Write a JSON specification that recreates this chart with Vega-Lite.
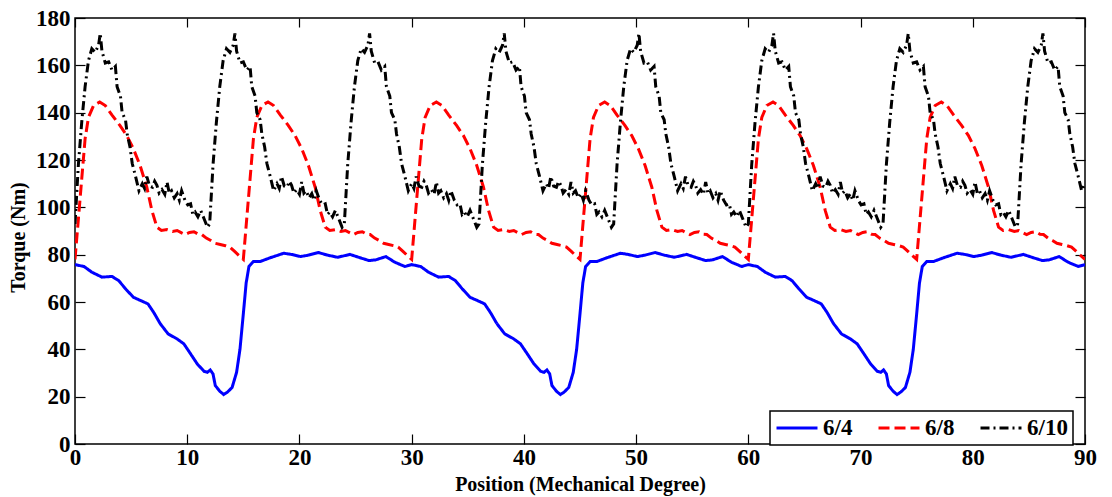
{
  "$schema": "https://vega.github.io/schema/vega-lite/v6.json",
  "width": 1010,
  "height": 426,
  "autosize": {"type": "none"},
  "padding": {"left": 75, "top": 18, "right": 27, "bottom": 53},
  "background": "white",
  "config": {
    "view": {"stroke": "black", "strokeWidth": 1.5},
    "axis": {
      "labelFont": "Liberation Serif", "labelFontWeight": "bold", "labelFontSize": 23, "labelColor": "black", "labelFlush": false,
      "titleFont": "Liberation Serif", "titleFontWeight": "bold", "titleFontSize": 20, "titleColor": "black",
      "grid": false, "domain": false, "tickColor": "black", "tickWidth": 1.2
    },
    "legend": {"strokeWidth": 1.5}
  },
  "data": {"values": [
    {"s":"6/4","x":0,"y":75.8},{"s":"6/4","x":0.8,"y":75},{"s":"6/4","x":1.5,"y":72.6},{"s":"6/4","x":2.4,"y":70.5},{"s":"6/4","x":3.3,"y":70.8},{"s":"6/4","x":3.9,"y":69},{"s":"6/4","x":4.5,"y":65.6},{"s":"6/4","x":5.2,"y":62},{"s":"6/4","x":6,"y":60.3},{"s":"6/4","x":6.5,"y":59.2},{"s":"6/4","x":7,"y":55.7},{"s":"6/4","x":7.6,"y":50.8},{"s":"6/4","x":8.3,"y":46.5},{"s":"6/4","x":9.1,"y":44.4},{"s":"6/4","x":9.7,"y":42.3},{"s":"6/4","x":10.3,"y":38.1},{"s":"6/4","x":10.9,"y":33.8},{"s":"6/4","x":11.5,"y":30.7},{"s":"6/4","x":11.8,"y":30.3},{"s":"6/4","x":12.05,"y":31.3},{"s":"6/4","x":12.3,"y":29.6},{"s":"6/4","x":12.5,"y":24.7},{"s":"6/4","x":12.9,"y":22.3},{"s":"6/4","x":13.25,"y":20.9},{"s":"6/4","x":13.6,"y":22},{"s":"6/4","x":14,"y":23.9},{"s":"6/4","x":14.4,"y":30.3},{"s":"6/4","x":14.7,"y":40},{"s":"6/4","x":15,"y":55},{"s":"6/4","x":15.25,"y":68},{"s":"6/4","x":15.5,"y":75},{"s":"6/4","x":15.9,"y":77.1},{"s":"6/4","x":16.5,"y":77.1},{"s":"6/4","x":17.4,"y":78.7},{"s":"6/4","x":18.6,"y":80.6},{"s":"6/4","x":19.3,"y":80.1},{"s":"6/4","x":20.1,"y":79.2},{"s":"6/4","x":20.8,"y":79.8},{"s":"6/4","x":21.7,"y":80.9},{"s":"6/4","x":22.5,"y":79.8},{"s":"6/4","x":23.4,"y":78.9},{"s":"6/4","x":24.5,"y":80.1},{"s":"6/4","x":25.4,"y":78.7},{"s":"6/4","x":26.2,"y":77.5},{"s":"6/4","x":26.8,"y":77.8},{"s":"6/4","x":27.7,"y":79.2},{"s":"6/4","x":28.5,"y":76.8},{"s":"6/4","x":29.4,"y":75},
    {"s":"6/4","x":30,"y":75.8},{"s":"6/4","x":30.8,"y":75},{"s":"6/4","x":31.5,"y":72.6},{"s":"6/4","x":32.4,"y":70.5},{"s":"6/4","x":33.3,"y":70.8},{"s":"6/4","x":33.9,"y":69},{"s":"6/4","x":34.5,"y":65.6},{"s":"6/4","x":35.2,"y":62},{"s":"6/4","x":36,"y":60.3},{"s":"6/4","x":36.5,"y":59.2},{"s":"6/4","x":37,"y":55.7},{"s":"6/4","x":37.6,"y":50.8},{"s":"6/4","x":38.3,"y":46.5},{"s":"6/4","x":39.1,"y":44.4},{"s":"6/4","x":39.7,"y":42.3},{"s":"6/4","x":40.3,"y":38.1},{"s":"6/4","x":40.9,"y":33.8},{"s":"6/4","x":41.5,"y":30.7},{"s":"6/4","x":41.8,"y":30.3},{"s":"6/4","x":42.05,"y":31.3},{"s":"6/4","x":42.3,"y":29.6},{"s":"6/4","x":42.5,"y":24.7},{"s":"6/4","x":42.9,"y":22.3},{"s":"6/4","x":43.25,"y":20.9},{"s":"6/4","x":43.6,"y":22},{"s":"6/4","x":44,"y":23.9},{"s":"6/4","x":44.4,"y":30.3},{"s":"6/4","x":44.7,"y":40},{"s":"6/4","x":45,"y":55},{"s":"6/4","x":45.25,"y":68},{"s":"6/4","x":45.5,"y":75},{"s":"6/4","x":45.9,"y":77.1},{"s":"6/4","x":46.5,"y":77.1},{"s":"6/4","x":47.4,"y":78.7},{"s":"6/4","x":48.6,"y":80.6},{"s":"6/4","x":49.3,"y":80.1},{"s":"6/4","x":50.1,"y":79.2},{"s":"6/4","x":50.8,"y":79.8},{"s":"6/4","x":51.7,"y":80.9},{"s":"6/4","x":52.5,"y":79.8},{"s":"6/4","x":53.4,"y":78.9},{"s":"6/4","x":54.5,"y":80.1},{"s":"6/4","x":55.4,"y":78.7},{"s":"6/4","x":56.2,"y":77.5},{"s":"6/4","x":56.8,"y":77.8},{"s":"6/4","x":57.7,"y":79.2},{"s":"6/4","x":58.5,"y":76.8},{"s":"6/4","x":59.4,"y":75},
    {"s":"6/4","x":60,"y":75.8},{"s":"6/4","x":60.8,"y":75},{"s":"6/4","x":61.5,"y":72.6},{"s":"6/4","x":62.4,"y":70.5},{"s":"6/4","x":63.3,"y":70.8},{"s":"6/4","x":63.9,"y":69},{"s":"6/4","x":64.5,"y":65.6},{"s":"6/4","x":65.2,"y":62},{"s":"6/4","x":66,"y":60.3},{"s":"6/4","x":66.5,"y":59.2},{"s":"6/4","x":67,"y":55.7},{"s":"6/4","x":67.6,"y":50.8},{"s":"6/4","x":68.3,"y":46.5},{"s":"6/4","x":69.1,"y":44.4},{"s":"6/4","x":69.7,"y":42.3},{"s":"6/4","x":70.3,"y":38.1},{"s":"6/4","x":70.9,"y":33.8},{"s":"6/4","x":71.5,"y":30.7},{"s":"6/4","x":71.8,"y":30.3},{"s":"6/4","x":72.05,"y":31.3},{"s":"6/4","x":72.3,"y":29.6},{"s":"6/4","x":72.5,"y":24.7},{"s":"6/4","x":72.9,"y":22.3},{"s":"6/4","x":73.25,"y":20.9},{"s":"6/4","x":73.6,"y":22},{"s":"6/4","x":74,"y":23.9},{"s":"6/4","x":74.4,"y":30.3},{"s":"6/4","x":74.7,"y":40},{"s":"6/4","x":75,"y":55},{"s":"6/4","x":75.25,"y":68},{"s":"6/4","x":75.5,"y":75},{"s":"6/4","x":75.9,"y":77.1},{"s":"6/4","x":76.5,"y":77.1},{"s":"6/4","x":77.4,"y":78.7},{"s":"6/4","x":78.6,"y":80.6},{"s":"6/4","x":79.3,"y":80.1},{"s":"6/4","x":80.1,"y":79.2},{"s":"6/4","x":80.8,"y":79.8},{"s":"6/4","x":81.7,"y":80.9},{"s":"6/4","x":82.5,"y":79.8},{"s":"6/4","x":83.4,"y":78.9},{"s":"6/4","x":84.5,"y":80.1},{"s":"6/4","x":85.4,"y":78.7},{"s":"6/4","x":86.2,"y":77.5},{"s":"6/4","x":86.8,"y":77.8},{"s":"6/4","x":87.7,"y":79.2},{"s":"6/4","x":88.5,"y":76.8},{"s":"6/4","x":89.4,"y":75},
    {"s":"6/4","x":90,"y":75.8},

    {"s":"6/8","x":0,"y":78},{"s":"6/8","x":0.3,"y":95},{"s":"6/8","x":0.6,"y":112},{"s":"6/8","x":0.9,"y":129},{"s":"6/8","x":1.2,"y":138},{"s":"6/8","x":1.65,"y":143},{"s":"6/8","x":2.2,"y":144.5},{"s":"6/8","x":2.7,"y":143},{"s":"6/8","x":3.3,"y":139},{"s":"6/8","x":4,"y":134.6},{"s":"6/8","x":4.6,"y":130.4},{"s":"6/8","x":5.2,"y":124.8},{"s":"6/8","x":5.8,"y":117.7},{"s":"6/8","x":6.4,"y":108.5},{"s":"6/8","x":6.85,"y":98.7},{"s":"6/8","x":7.3,"y":91.6},{"s":"6/8","x":7.7,"y":90.2},{"s":"6/8","x":8.2,"y":90.6},{"s":"6/8","x":8.7,"y":89.8},{"s":"6/8","x":9.1,"y":90.2},{"s":"6/8","x":9.5,"y":89.2},{"s":"6/8","x":9.8,"y":88.5},{"s":"6/8","x":10.2,"y":89.4},{"s":"6/8","x":10.6,"y":89.7},{"s":"6/8","x":11,"y":88.6},{"s":"6/8","x":11.3,"y":88.5},{"s":"6/8","x":11.7,"y":87},{"s":"6/8","x":12.1,"y":86},{"s":"6/8","x":12.5,"y":84.8},{"s":"6/8","x":12.95,"y":84.3},{"s":"6/8","x":13.4,"y":83.8},{"s":"6/8","x":13.8,"y":83.2},{"s":"6/8","x":14.2,"y":81.5},{"s":"6/8","x":14.6,"y":79.7},
    {"s":"6/8","x":15,"y":78},{"s":"6/8","x":15.3,"y":95},{"s":"6/8","x":15.6,"y":112},{"s":"6/8","x":15.9,"y":129},{"s":"6/8","x":16.2,"y":138},{"s":"6/8","x":16.65,"y":143},{"s":"6/8","x":17.2,"y":144.5},{"s":"6/8","x":17.7,"y":143},{"s":"6/8","x":18.3,"y":139},{"s":"6/8","x":19,"y":134.6},{"s":"6/8","x":19.6,"y":130.4},{"s":"6/8","x":20.2,"y":124.8},{"s":"6/8","x":20.8,"y":117.7},{"s":"6/8","x":21.4,"y":108.5},{"s":"6/8","x":21.85,"y":98.7},{"s":"6/8","x":22.3,"y":91.6},{"s":"6/8","x":22.7,"y":90.2},{"s":"6/8","x":23.2,"y":90.6},{"s":"6/8","x":23.7,"y":89.8},{"s":"6/8","x":24.1,"y":90.2},{"s":"6/8","x":24.5,"y":89.2},{"s":"6/8","x":24.8,"y":88.5},{"s":"6/8","x":25.2,"y":89.4},{"s":"6/8","x":25.6,"y":89.7},{"s":"6/8","x":26,"y":88.6},{"s":"6/8","x":26.3,"y":88.5},{"s":"6/8","x":26.7,"y":87},{"s":"6/8","x":27.1,"y":86},{"s":"6/8","x":27.5,"y":84.8},{"s":"6/8","x":27.95,"y":84.3},{"s":"6/8","x":28.4,"y":83.8},{"s":"6/8","x":28.8,"y":83.2},{"s":"6/8","x":29.2,"y":81.5},{"s":"6/8","x":29.6,"y":79.7},
    {"s":"6/8","x":30,"y":78},{"s":"6/8","x":30.3,"y":95},{"s":"6/8","x":30.6,"y":112},{"s":"6/8","x":30.9,"y":129},{"s":"6/8","x":31.2,"y":138},{"s":"6/8","x":31.65,"y":143},{"s":"6/8","x":32.2,"y":144.5},{"s":"6/8","x":32.7,"y":143},{"s":"6/8","x":33.3,"y":139},{"s":"6/8","x":34,"y":134.6},{"s":"6/8","x":34.6,"y":130.4},{"s":"6/8","x":35.2,"y":124.8},{"s":"6/8","x":35.8,"y":117.7},{"s":"6/8","x":36.4,"y":108.5},{"s":"6/8","x":36.85,"y":98.7},{"s":"6/8","x":37.3,"y":91.6},{"s":"6/8","x":37.7,"y":90.2},{"s":"6/8","x":38.2,"y":90.6},{"s":"6/8","x":38.7,"y":89.8},{"s":"6/8","x":39.1,"y":90.2},{"s":"6/8","x":39.5,"y":89.2},{"s":"6/8","x":39.8,"y":88.5},{"s":"6/8","x":40.2,"y":89.4},{"s":"6/8","x":40.6,"y":89.7},{"s":"6/8","x":41,"y":88.6},{"s":"6/8","x":41.3,"y":88.5},{"s":"6/8","x":41.7,"y":87},{"s":"6/8","x":42.1,"y":86},{"s":"6/8","x":42.5,"y":84.8},{"s":"6/8","x":42.95,"y":84.3},{"s":"6/8","x":43.4,"y":83.8},{"s":"6/8","x":43.8,"y":83.2},{"s":"6/8","x":44.2,"y":81.5},{"s":"6/8","x":44.6,"y":79.7},
    {"s":"6/8","x":45,"y":78},{"s":"6/8","x":45.3,"y":95},{"s":"6/8","x":45.6,"y":112},{"s":"6/8","x":45.9,"y":129},{"s":"6/8","x":46.2,"y":138},{"s":"6/8","x":46.65,"y":143},{"s":"6/8","x":47.2,"y":144.5},{"s":"6/8","x":47.7,"y":143},{"s":"6/8","x":48.3,"y":139},{"s":"6/8","x":49,"y":134.6},{"s":"6/8","x":49.6,"y":130.4},{"s":"6/8","x":50.2,"y":124.8},{"s":"6/8","x":50.8,"y":117.7},{"s":"6/8","x":51.4,"y":108.5},{"s":"6/8","x":51.85,"y":98.7},{"s":"6/8","x":52.3,"y":91.6},{"s":"6/8","x":52.7,"y":90.2},{"s":"6/8","x":53.2,"y":90.6},{"s":"6/8","x":53.7,"y":89.8},{"s":"6/8","x":54.1,"y":90.2},{"s":"6/8","x":54.5,"y":89.2},{"s":"6/8","x":54.8,"y":88.5},{"s":"6/8","x":55.2,"y":89.4},{"s":"6/8","x":55.6,"y":89.7},{"s":"6/8","x":56,"y":88.6},{"s":"6/8","x":56.3,"y":88.5},{"s":"6/8","x":56.7,"y":87},{"s":"6/8","x":57.1,"y":86},{"s":"6/8","x":57.5,"y":84.8},{"s":"6/8","x":57.95,"y":84.3},{"s":"6/8","x":58.4,"y":83.8},{"s":"6/8","x":58.8,"y":83.2},{"s":"6/8","x":59.2,"y":81.5},{"s":"6/8","x":59.6,"y":79.7},
    {"s":"6/8","x":60,"y":78},{"s":"6/8","x":60.3,"y":95},{"s":"6/8","x":60.6,"y":112},{"s":"6/8","x":60.9,"y":129},{"s":"6/8","x":61.2,"y":138},{"s":"6/8","x":61.65,"y":143},{"s":"6/8","x":62.2,"y":144.5},{"s":"6/8","x":62.7,"y":143},{"s":"6/8","x":63.3,"y":139},{"s":"6/8","x":64,"y":134.6},{"s":"6/8","x":64.6,"y":130.4},{"s":"6/8","x":65.2,"y":124.8},{"s":"6/8","x":65.8,"y":117.7},{"s":"6/8","x":66.4,"y":108.5},{"s":"6/8","x":66.85,"y":98.7},{"s":"6/8","x":67.3,"y":91.6},{"s":"6/8","x":67.7,"y":90.2},{"s":"6/8","x":68.2,"y":90.6},{"s":"6/8","x":68.7,"y":89.8},{"s":"6/8","x":69.1,"y":90.2},{"s":"6/8","x":69.5,"y":89.2},{"s":"6/8","x":69.8,"y":88.5},{"s":"6/8","x":70.2,"y":89.4},{"s":"6/8","x":70.6,"y":89.7},{"s":"6/8","x":71,"y":88.6},{"s":"6/8","x":71.3,"y":88.5},{"s":"6/8","x":71.7,"y":87},{"s":"6/8","x":72.1,"y":86},{"s":"6/8","x":72.5,"y":84.8},{"s":"6/8","x":72.95,"y":84.3},{"s":"6/8","x":73.4,"y":83.8},{"s":"6/8","x":73.8,"y":83.2},{"s":"6/8","x":74.2,"y":81.5},{"s":"6/8","x":74.6,"y":79.7},
    {"s":"6/8","x":75,"y":78},{"s":"6/8","x":75.3,"y":95},{"s":"6/8","x":75.6,"y":112},{"s":"6/8","x":75.9,"y":129},{"s":"6/8","x":76.2,"y":138},{"s":"6/8","x":76.65,"y":143},{"s":"6/8","x":77.2,"y":144.5},{"s":"6/8","x":77.7,"y":143},{"s":"6/8","x":78.3,"y":139},{"s":"6/8","x":79,"y":134.6},{"s":"6/8","x":79.6,"y":130.4},{"s":"6/8","x":80.2,"y":124.8},{"s":"6/8","x":80.8,"y":117.7},{"s":"6/8","x":81.4,"y":108.5},{"s":"6/8","x":81.85,"y":98.7},{"s":"6/8","x":82.3,"y":91.6},{"s":"6/8","x":82.7,"y":90.2},{"s":"6/8","x":83.2,"y":90.6},{"s":"6/8","x":83.7,"y":89.8},{"s":"6/8","x":84.1,"y":90.2},{"s":"6/8","x":84.5,"y":89.2},{"s":"6/8","x":84.8,"y":88.5},{"s":"6/8","x":85.2,"y":89.4},{"s":"6/8","x":85.6,"y":89.7},{"s":"6/8","x":86,"y":88.6},{"s":"6/8","x":86.3,"y":88.5},{"s":"6/8","x":86.7,"y":87},{"s":"6/8","x":87.1,"y":86},{"s":"6/8","x":87.5,"y":84.8},{"s":"6/8","x":87.95,"y":84.3},{"s":"6/8","x":88.4,"y":83.8},{"s":"6/8","x":88.8,"y":83.2},{"s":"6/8","x":89.2,"y":81.5},{"s":"6/8","x":89.6,"y":79.7},
    {"s":"6/8","x":90,"y":78},

    {"s":"6/10","x":0,"y":93},{"s":"6/10","x":0.3,"y":118},{"s":"6/10","x":0.6,"y":136},{"s":"6/10","x":0.9,"y":151},{"s":"6/10","x":1.2,"y":162},{"s":"6/10","x":1.5,"y":167},{"s":"6/10","x":1.8,"y":165.5},{"s":"6/10","x":2.1,"y":168.5},{"s":"6/10","x":2.25,"y":173.5},{"s":"6/10","x":2.4,"y":166},{"s":"6/10","x":2.7,"y":161},{"s":"6/10","x":3,"y":161.5},{"s":"6/10","x":3.3,"y":158},{"s":"6/10","x":3.6,"y":159.5},{"s":"6/10","x":3.75,"y":151},{"s":"6/10","x":4.05,"y":147},{"s":"6/10","x":4.2,"y":140},{"s":"6/10","x":4.5,"y":137},{"s":"6/10","x":4.65,"y":131},{"s":"6/10","x":4.9,"y":125.5},{"s":"6/10","x":5.1,"y":118.5},{"s":"6/10","x":5.4,"y":113},{"s":"6/10","x":5.7,"y":107},{"s":"6/10","x":6,"y":110},{"s":"6/10","x":6.2,"y":108},{"s":"6/10","x":6.4,"y":113},{"s":"6/10","x":6.65,"y":109},{"s":"6/10","x":6.9,"y":108.5},{"s":"6/10","x":7.1,"y":111},{"s":"6/10","x":7.3,"y":109.3},{"s":"6/10","x":7.5,"y":106},{"s":"6/10","x":7.75,"y":107.5},{"s":"6/10","x":8,"y":105.5},{"s":"6/10","x":8.2,"y":110.7},{"s":"6/10","x":8.4,"y":106},{"s":"6/10","x":8.6,"y":107},{"s":"6/10","x":8.85,"y":104},{"s":"6/10","x":9.1,"y":105.8},{"s":"6/10","x":9.3,"y":103},{"s":"6/10","x":9.5,"y":107},{"s":"6/10","x":9.8,"y":103},{"s":"6/10","x":10.05,"y":101},{"s":"6/10","x":10.3,"y":101.5},{"s":"6/10","x":10.5,"y":97},{"s":"6/10","x":10.7,"y":98},{"s":"6/10","x":10.95,"y":96},{"s":"6/10","x":11.2,"y":98.7},{"s":"6/10","x":11.5,"y":95.2},{"s":"6/10","x":11.8,"y":91.6},
    {"s":"6/10","x":12,"y":93},{"s":"6/10","x":12.3,"y":118},{"s":"6/10","x":12.6,"y":136},{"s":"6/10","x":12.9,"y":151},{"s":"6/10","x":13.2,"y":162},{"s":"6/10","x":13.5,"y":167},{"s":"6/10","x":13.8,"y":165.5},{"s":"6/10","x":14.1,"y":168.5},{"s":"6/10","x":14.25,"y":173.5},{"s":"6/10","x":14.4,"y":166},{"s":"6/10","x":14.7,"y":161},{"s":"6/10","x":15,"y":161.5},{"s":"6/10","x":15.3,"y":158},{"s":"6/10","x":15.6,"y":159.5},{"s":"6/10","x":15.75,"y":151},{"s":"6/10","x":16.05,"y":147},{"s":"6/10","x":16.2,"y":140},{"s":"6/10","x":16.5,"y":137},{"s":"6/10","x":16.65,"y":131},{"s":"6/10","x":16.9,"y":125.5},{"s":"6/10","x":17.1,"y":118.5},{"s":"6/10","x":17.4,"y":113},{"s":"6/10","x":17.7,"y":107},{"s":"6/10","x":18,"y":110},{"s":"6/10","x":18.2,"y":108},{"s":"6/10","x":18.4,"y":113},{"s":"6/10","x":18.65,"y":109},{"s":"6/10","x":18.9,"y":108.5},{"s":"6/10","x":19.1,"y":111},{"s":"6/10","x":19.3,"y":109.3},{"s":"6/10","x":19.5,"y":106},{"s":"6/10","x":19.75,"y":107.5},{"s":"6/10","x":20,"y":105.5},{"s":"6/10","x":20.2,"y":110.7},{"s":"6/10","x":20.4,"y":106},{"s":"6/10","x":20.6,"y":107},{"s":"6/10","x":20.85,"y":104},{"s":"6/10","x":21.1,"y":105.8},{"s":"6/10","x":21.3,"y":103},{"s":"6/10","x":21.5,"y":107},{"s":"6/10","x":21.8,"y":103},{"s":"6/10","x":22.05,"y":101},{"s":"6/10","x":22.3,"y":101.5},{"s":"6/10","x":22.5,"y":97},{"s":"6/10","x":22.7,"y":98},{"s":"6/10","x":22.95,"y":96},{"s":"6/10","x":23.2,"y":98.7},{"s":"6/10","x":23.5,"y":95.2},{"s":"6/10","x":23.8,"y":91.6},
    {"s":"6/10","x":24,"y":93},{"s":"6/10","x":24.3,"y":118},{"s":"6/10","x":24.6,"y":136},{"s":"6/10","x":24.9,"y":151},{"s":"6/10","x":25.2,"y":162},{"s":"6/10","x":25.5,"y":167},{"s":"6/10","x":25.8,"y":165.5},{"s":"6/10","x":26.1,"y":168.5},{"s":"6/10","x":26.25,"y":173.5},{"s":"6/10","x":26.4,"y":166},{"s":"6/10","x":26.7,"y":161},{"s":"6/10","x":27,"y":161.5},{"s":"6/10","x":27.3,"y":158},{"s":"6/10","x":27.6,"y":159.5},{"s":"6/10","x":27.75,"y":151},{"s":"6/10","x":28.05,"y":147},{"s":"6/10","x":28.2,"y":140},{"s":"6/10","x":28.5,"y":137},{"s":"6/10","x":28.65,"y":131},{"s":"6/10","x":28.9,"y":125.5},{"s":"6/10","x":29.1,"y":118.5},{"s":"6/10","x":29.4,"y":113},{"s":"6/10","x":29.7,"y":107},{"s":"6/10","x":30,"y":110},{"s":"6/10","x":30.2,"y":108},{"s":"6/10","x":30.4,"y":113},{"s":"6/10","x":30.65,"y":109},{"s":"6/10","x":30.9,"y":108.5},{"s":"6/10","x":31.1,"y":111},{"s":"6/10","x":31.3,"y":109.3},{"s":"6/10","x":31.5,"y":106},{"s":"6/10","x":31.75,"y":107.5},{"s":"6/10","x":32,"y":105.5},{"s":"6/10","x":32.2,"y":110.7},{"s":"6/10","x":32.4,"y":106},{"s":"6/10","x":32.6,"y":107},{"s":"6/10","x":32.85,"y":104},{"s":"6/10","x":33.1,"y":105.8},{"s":"6/10","x":33.3,"y":103},{"s":"6/10","x":33.5,"y":107},{"s":"6/10","x":33.8,"y":103},{"s":"6/10","x":34.05,"y":101},{"s":"6/10","x":34.3,"y":101.5},{"s":"6/10","x":34.5,"y":97},{"s":"6/10","x":34.7,"y":98},{"s":"6/10","x":34.95,"y":96},{"s":"6/10","x":35.2,"y":98.7},{"s":"6/10","x":35.5,"y":95.2},{"s":"6/10","x":35.8,"y":91.6},
    {"s":"6/10","x":36,"y":93},{"s":"6/10","x":36.3,"y":118},{"s":"6/10","x":36.6,"y":136},{"s":"6/10","x":36.9,"y":151},{"s":"6/10","x":37.2,"y":162},{"s":"6/10","x":37.5,"y":167},{"s":"6/10","x":37.8,"y":165.5},{"s":"6/10","x":38.1,"y":168.5},{"s":"6/10","x":38.25,"y":173.5},{"s":"6/10","x":38.4,"y":166},{"s":"6/10","x":38.7,"y":161},{"s":"6/10","x":39,"y":161.5},{"s":"6/10","x":39.3,"y":158},{"s":"6/10","x":39.6,"y":159.5},{"s":"6/10","x":39.75,"y":151},{"s":"6/10","x":40.05,"y":147},{"s":"6/10","x":40.2,"y":140},{"s":"6/10","x":40.5,"y":137},{"s":"6/10","x":40.65,"y":131},{"s":"6/10","x":40.9,"y":125.5},{"s":"6/10","x":41.1,"y":118.5},{"s":"6/10","x":41.4,"y":113},{"s":"6/10","x":41.7,"y":107},{"s":"6/10","x":42,"y":110},{"s":"6/10","x":42.2,"y":108},{"s":"6/10","x":42.4,"y":113},{"s":"6/10","x":42.65,"y":109},{"s":"6/10","x":42.9,"y":108.5},{"s":"6/10","x":43.1,"y":111},{"s":"6/10","x":43.3,"y":109.3},{"s":"6/10","x":43.5,"y":106},{"s":"6/10","x":43.75,"y":107.5},{"s":"6/10","x":44,"y":105.5},{"s":"6/10","x":44.2,"y":110.7},{"s":"6/10","x":44.4,"y":106},{"s":"6/10","x":44.6,"y":107},{"s":"6/10","x":44.85,"y":104},{"s":"6/10","x":45.1,"y":105.8},{"s":"6/10","x":45.3,"y":103},{"s":"6/10","x":45.5,"y":107},{"s":"6/10","x":45.8,"y":103},{"s":"6/10","x":46.05,"y":101},{"s":"6/10","x":46.3,"y":101.5},{"s":"6/10","x":46.5,"y":97},{"s":"6/10","x":46.7,"y":98},{"s":"6/10","x":46.95,"y":96},{"s":"6/10","x":47.2,"y":98.7},{"s":"6/10","x":47.5,"y":95.2},{"s":"6/10","x":47.8,"y":91.6},
    {"s":"6/10","x":48,"y":93},{"s":"6/10","x":48.3,"y":118},{"s":"6/10","x":48.6,"y":136},{"s":"6/10","x":48.9,"y":151},{"s":"6/10","x":49.2,"y":162},{"s":"6/10","x":49.5,"y":167},{"s":"6/10","x":49.8,"y":165.5},{"s":"6/10","x":50.1,"y":168.5},{"s":"6/10","x":50.25,"y":173.5},{"s":"6/10","x":50.4,"y":166},{"s":"6/10","x":50.7,"y":161},{"s":"6/10","x":51,"y":161.5},{"s":"6/10","x":51.3,"y":158},{"s":"6/10","x":51.6,"y":159.5},{"s":"6/10","x":51.75,"y":151},{"s":"6/10","x":52.05,"y":147},{"s":"6/10","x":52.2,"y":140},{"s":"6/10","x":52.5,"y":137},{"s":"6/10","x":52.65,"y":131},{"s":"6/10","x":52.9,"y":125.5},{"s":"6/10","x":53.1,"y":118.5},{"s":"6/10","x":53.4,"y":113},{"s":"6/10","x":53.7,"y":107},{"s":"6/10","x":54,"y":110},{"s":"6/10","x":54.2,"y":108},{"s":"6/10","x":54.4,"y":113},{"s":"6/10","x":54.65,"y":109},{"s":"6/10","x":54.9,"y":108.5},{"s":"6/10","x":55.1,"y":111},{"s":"6/10","x":55.3,"y":109.3},{"s":"6/10","x":55.5,"y":106},{"s":"6/10","x":55.75,"y":107.5},{"s":"6/10","x":56,"y":105.5},{"s":"6/10","x":56.2,"y":110.7},{"s":"6/10","x":56.4,"y":106},{"s":"6/10","x":56.6,"y":107},{"s":"6/10","x":56.85,"y":104},{"s":"6/10","x":57.1,"y":105.8},{"s":"6/10","x":57.3,"y":103},{"s":"6/10","x":57.5,"y":107},{"s":"6/10","x":57.8,"y":103},{"s":"6/10","x":58.05,"y":101},{"s":"6/10","x":58.3,"y":101.5},{"s":"6/10","x":58.5,"y":97},{"s":"6/10","x":58.7,"y":98},{"s":"6/10","x":58.95,"y":96},{"s":"6/10","x":59.2,"y":98.7},{"s":"6/10","x":59.5,"y":95.2},{"s":"6/10","x":59.8,"y":91.6},
    {"s":"6/10","x":60,"y":93},{"s":"6/10","x":60.3,"y":118},{"s":"6/10","x":60.6,"y":136},{"s":"6/10","x":60.9,"y":151},{"s":"6/10","x":61.2,"y":162},{"s":"6/10","x":61.5,"y":167},{"s":"6/10","x":61.8,"y":165.5},{"s":"6/10","x":62.1,"y":168.5},{"s":"6/10","x":62.25,"y":173.5},{"s":"6/10","x":62.4,"y":166},{"s":"6/10","x":62.7,"y":161},{"s":"6/10","x":63,"y":161.5},{"s":"6/10","x":63.3,"y":158},{"s":"6/10","x":63.6,"y":159.5},{"s":"6/10","x":63.75,"y":151},{"s":"6/10","x":64.05,"y":147},{"s":"6/10","x":64.2,"y":140},{"s":"6/10","x":64.5,"y":137},{"s":"6/10","x":64.65,"y":131},{"s":"6/10","x":64.9,"y":125.5},{"s":"6/10","x":65.1,"y":118.5},{"s":"6/10","x":65.4,"y":113},{"s":"6/10","x":65.7,"y":107},{"s":"6/10","x":66,"y":110},{"s":"6/10","x":66.2,"y":108},{"s":"6/10","x":66.4,"y":113},{"s":"6/10","x":66.65,"y":109},{"s":"6/10","x":66.9,"y":108.5},{"s":"6/10","x":67.1,"y":111},{"s":"6/10","x":67.3,"y":109.3},{"s":"6/10","x":67.5,"y":106},{"s":"6/10","x":67.75,"y":107.5},{"s":"6/10","x":68,"y":105.5},{"s":"6/10","x":68.2,"y":110.7},{"s":"6/10","x":68.4,"y":106},{"s":"6/10","x":68.6,"y":107},{"s":"6/10","x":68.85,"y":104},{"s":"6/10","x":69.1,"y":105.8},{"s":"6/10","x":69.3,"y":103},{"s":"6/10","x":69.5,"y":107},{"s":"6/10","x":69.8,"y":103},{"s":"6/10","x":70.05,"y":101},{"s":"6/10","x":70.3,"y":101.5},{"s":"6/10","x":70.5,"y":97},{"s":"6/10","x":70.7,"y":98},{"s":"6/10","x":70.95,"y":96},{"s":"6/10","x":71.2,"y":98.7},{"s":"6/10","x":71.5,"y":95.2},{"s":"6/10","x":71.8,"y":91.6},
    {"s":"6/10","x":72,"y":93},{"s":"6/10","x":72.3,"y":118},{"s":"6/10","x":72.6,"y":136},{"s":"6/10","x":72.9,"y":151},{"s":"6/10","x":73.2,"y":162},{"s":"6/10","x":73.5,"y":167},{"s":"6/10","x":73.8,"y":165.5},{"s":"6/10","x":74.1,"y":168.5},{"s":"6/10","x":74.25,"y":173.5},{"s":"6/10","x":74.4,"y":166},{"s":"6/10","x":74.7,"y":161},{"s":"6/10","x":75,"y":161.5},{"s":"6/10","x":75.3,"y":158},{"s":"6/10","x":75.6,"y":159.5},{"s":"6/10","x":75.75,"y":151},{"s":"6/10","x":76.05,"y":147},{"s":"6/10","x":76.2,"y":140},{"s":"6/10","x":76.5,"y":137},{"s":"6/10","x":76.65,"y":131},{"s":"6/10","x":76.9,"y":125.5},{"s":"6/10","x":77.1,"y":118.5},{"s":"6/10","x":77.4,"y":113},{"s":"6/10","x":77.7,"y":107},{"s":"6/10","x":78,"y":110},{"s":"6/10","x":78.2,"y":108},{"s":"6/10","x":78.4,"y":113},{"s":"6/10","x":78.65,"y":109},{"s":"6/10","x":78.9,"y":108.5},{"s":"6/10","x":79.1,"y":111},{"s":"6/10","x":79.3,"y":109.3},{"s":"6/10","x":79.5,"y":106},{"s":"6/10","x":79.75,"y":107.5},{"s":"6/10","x":80,"y":105.5},{"s":"6/10","x":80.2,"y":110.7},{"s":"6/10","x":80.4,"y":106},{"s":"6/10","x":80.6,"y":107},{"s":"6/10","x":80.85,"y":104},{"s":"6/10","x":81.1,"y":105.8},{"s":"6/10","x":81.3,"y":103},{"s":"6/10","x":81.5,"y":107},{"s":"6/10","x":81.8,"y":103},{"s":"6/10","x":82.05,"y":101},{"s":"6/10","x":82.3,"y":101.5},{"s":"6/10","x":82.5,"y":97},{"s":"6/10","x":82.7,"y":98},{"s":"6/10","x":82.95,"y":96},{"s":"6/10","x":83.2,"y":98.7},{"s":"6/10","x":83.5,"y":95.2},{"s":"6/10","x":83.8,"y":91.6},
    {"s":"6/10","x":84,"y":93},{"s":"6/10","x":84.3,"y":118},{"s":"6/10","x":84.6,"y":136},{"s":"6/10","x":84.9,"y":151},{"s":"6/10","x":85.2,"y":162},{"s":"6/10","x":85.5,"y":167},{"s":"6/10","x":85.8,"y":165.5},{"s":"6/10","x":86.1,"y":168.5},{"s":"6/10","x":86.25,"y":173.5},{"s":"6/10","x":86.4,"y":166},{"s":"6/10","x":86.7,"y":161},{"s":"6/10","x":87,"y":161.5},{"s":"6/10","x":87.3,"y":158},{"s":"6/10","x":87.6,"y":159.5},{"s":"6/10","x":87.75,"y":151},{"s":"6/10","x":88.05,"y":147},{"s":"6/10","x":88.2,"y":140},{"s":"6/10","x":88.5,"y":137},{"s":"6/10","x":88.65,"y":131},{"s":"6/10","x":88.9,"y":125.5},{"s":"6/10","x":89.1,"y":118.5},{"s":"6/10","x":89.4,"y":113},{"s":"6/10","x":89.7,"y":107},{"s":"6/10","x":90,"y":110}
  ]},
  "layer": [
    {
      "mark": {"type": "line", "strokeWidth": 3, "clip": true},
      "encoding": {
        "x": {
          "field": "x", "type": "quantitative",
          "scale": {"domain": [0, 90], "nice": false},
          "axis": {
            "orient": "bottom", "values": [0, 10, 20, 30, 40, 50, 60, 70, 80, 90],
            "tickSize": -10, "labelPadding": 12,
            "title": "Position (Mechanical Degree)", "titleBaseline": "top", "titleY": 30
          }
        },
        "y": {
          "field": "y", "type": "quantitative",
          "scale": {"domain": [0, 180], "nice": false},
          "axis": {
            "orient": "left", "values": [0, 20, 40, 60, 80, 100, 120, 140, 160, 180],
            "tickSize": -10, "labelPadding": 15,
            "title": "Torque (Nm)", "titleBaseline": "bottom", "titleX": -47, "titleY": 219
          }
        },
        "color": {
          "field": "s", "type": "nominal",
          "scale": {"domain": ["6/4", "6/8", "6/10"], "range": ["#0000ff", "#ff0000", "#000000"]},
          "legend": {
            "title": null, "orient": "none", "legendX": 695, "legendY": 393, "direction": "horizontal",
            "strokeColor": "black", "fillColor": "white", "padding": 5,
            "symbolType": "M-2,0H2", "symbolSize": 420, "symbolStrokeWidth": 3, "symbolOffset": 10,
            "labelFont": "Liberation Serif", "labelFontWeight": "bold", "labelFontSize": 23, "labelColor": "black",
            "labelOffset": 14, "columnPadding": 8, "gridAlign": "all"
          }
        },
        "strokeDash": {
          "field": "s", "type": "nominal",
          "scale": {"domain": ["6/4", "6/8", "6/10"], "range": [[1, 0], [11, 5], [9, 4, 2, 4]]},
          "legend": {
            "title": null, "orient": "none", "legendX": 695, "legendY": 393, "direction": "horizontal",
            "strokeColor": "black", "fillColor": "white", "padding": 5,
            "symbolType": "M-2,0H2", "symbolSize": 420, "symbolStrokeWidth": 3, "symbolOffset": 10,
            "labelFont": "Liberation Serif", "labelFontWeight": "bold", "labelFontSize": 23, "labelColor": "black",
            "labelOffset": 14, "columnPadding": 8, "gridAlign": "all"
          }
        }
      }
    },
    {
      "data": {"values": [{"x": 0, "y": 0}]},
      "mark": {"type": "point", "opacity": 0},
      "encoding": {
        "x": {
          "field": "x", "type": "quantitative",
          "axis": {"orient": "top", "values": [0, 10, 20, 30, 40, 50, 60, 70, 80, 90], "tickSize": -9, "labels": false, "title": null}
        },
        "y": {
          "field": "y", "type": "quantitative",
          "axis": {"orient": "right", "values": [0, 20, 40, 60, 80, 100, 120, 140, 160, 180], "tickSize": -10, "labels": false, "title": null}
        }
      }
    }
  ]
}
